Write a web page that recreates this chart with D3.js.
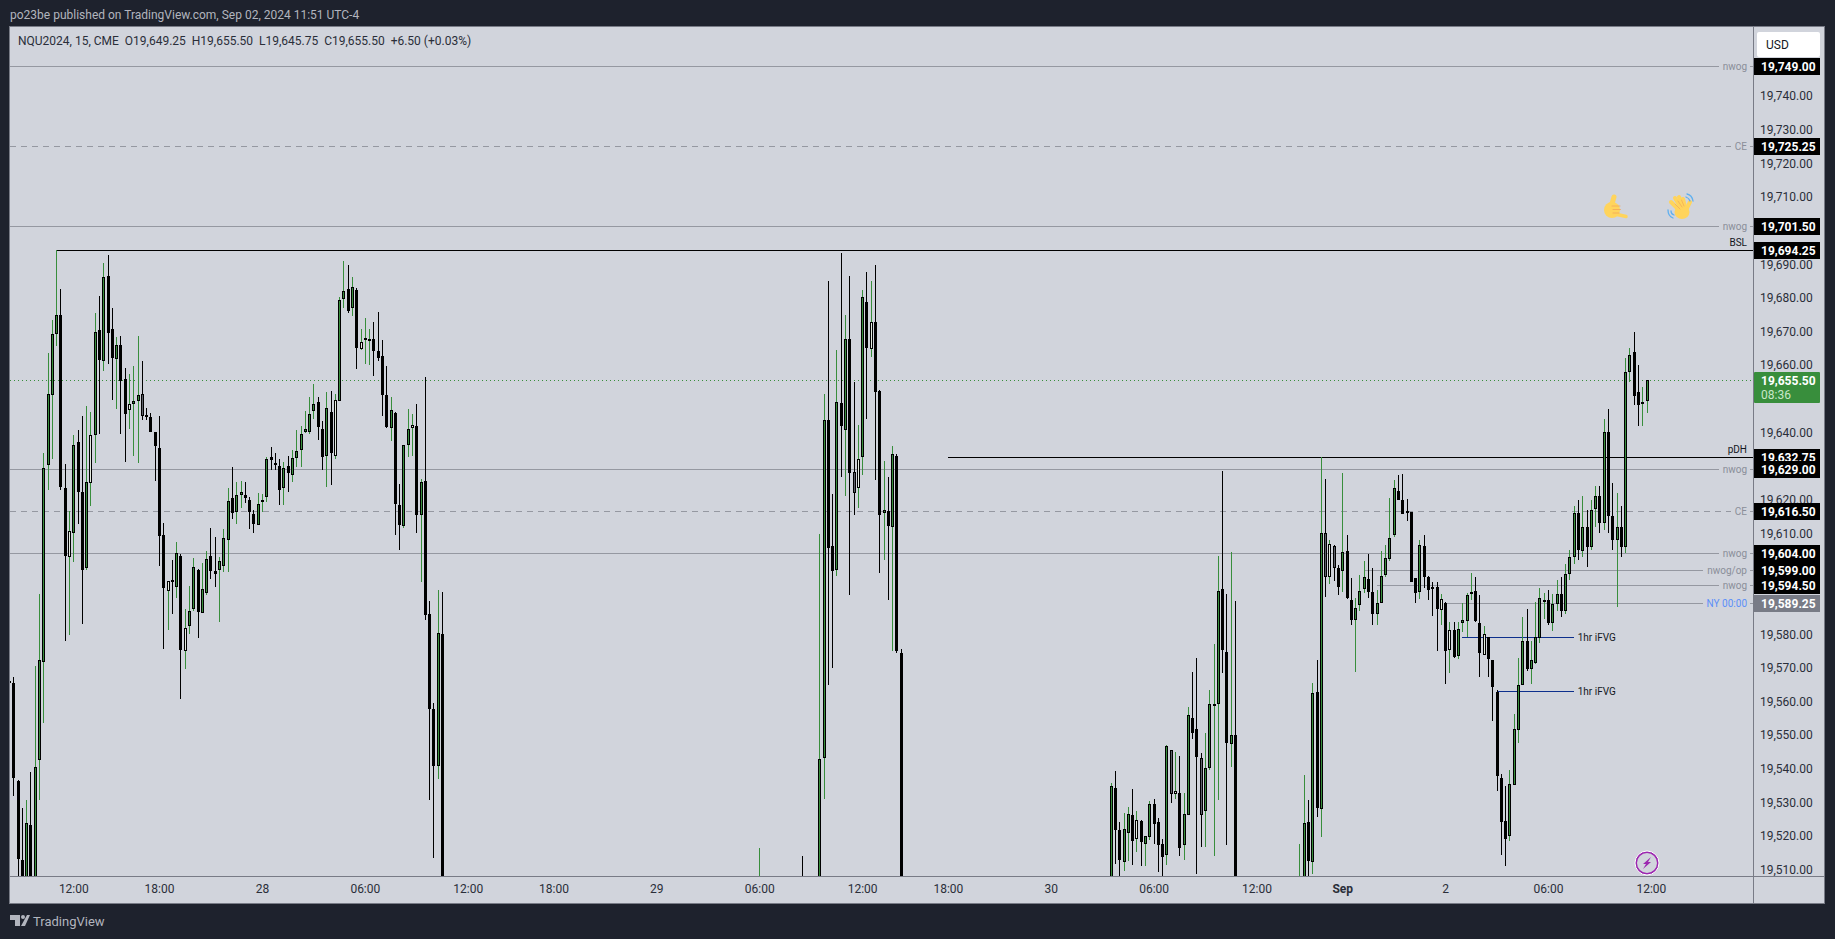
<!DOCTYPE html>
<html>
<head>
<meta charset="utf-8">
<script src="https://cdn.jsdelivr.net/npm/d3@7"></script>
<style>
  html, body { margin: 0; padding: 0; background: #1e222d; overflow: hidden; }
  svg { display: block; }
  text { font-family: Roboto, "Noto Sans", sans-serif; }
</style>
</head>
<body>
<div id="chart"></div>
<script>
//each bar: [bar number, kind, open, high, low, close]
//kind: u = green, d = black, h = hollow, g = grey
const barsAug27 = [
  [-1,"d",19566,19566.5,19565.5,19565.8],
  [0,"d",19565.5,19567.3,19532,19537.3],[1,"d",19536.4,19536.6,19505,19513.1],[2,"d",19512.9,19528.4,19500,19505],
  [3,"u",19505,19530.8,19500,19523.9],[4,"d",19523.4,19539.1,19500,19505],[5,"u",19505,19570.6,19500,19540.5],
  [6,"u",19542.5,19592,19530.6,19572.3],[7,"u",19571.6,19633.8,19553.5,19629.4],[8,"u",19630.2,19663.5,19622.9,19651.4],
  [9,"u",19651,19673.4,19632.2,19669.2],[10,"u",19669.1,19694.25,19665.7,19674.8],[11,"d",19674.8,19682.5,19623,19623.6],
  [12,"d",19623.4,19630.7,19577.9,19603.1],[13,"h",19602.9,19616.7,19579.8,19610.6],[14,"u",19610,19639.2,19601.6,19636.2],
  [15,"d",19637.1,19640.7,19612.8,19622.2],[16,"d",19622.2,19644.8,19583.1,19599],[17,"u",19599.5,19647.8,19599,19625.2],
  [18,"h",19624.8,19646.1,19618,19639.2],[19,"u",19639.1,19675.4,19631,19669.8],[20,"d",19670.4,19680.6,19639.6,19661.4],
  [21,"u",19661.1,19690.4,19658.3,19686.1],[22,"d",19686.4,19692.7,19660.4,19669.4],[23,"d",19670.7,19676.9,19649.7,19662],
  [24,"u",19661.8,19668.3,19647,19665.9],[25,"d",19665.9,19668.6,19639.6,19655.2],[26,"d",19655.8,19659.1,19631.3,19645.3],
  [27,"h",19646.5,19657.4,19641.1,19648.4],[28,"u",19648.3,19659.8,19633,19649.3],[29,"u",19649.2,19668.6,19631,19651.1],
  [30,"g",19651.4,19661.2,19643.7,19645],[31,"d",19645.2,19647.3,19643.7,19645],[32,"d",19644.6,19645.8,19640,19640],
  [33,"d",19640.1,19640.1,19625.6,19635.8],[34,"d",19635.3,19644.8,19600.4,19609],[35,"d",19609.5,19613,19575.5,19593.6],
  [36,"h",19592.7,19595.8,19581.3,19595.8],[37,"d",19596.2,19602.1,19586.1,19596],[38,"u",19593.9,19607.4,19590.8,19604.1],
  [39,"d",19603.3,19603.9,19560.8,19575.5],[40,"h",19574.9,19587.6,19569.7,19581.8],[41,"u",19582.3,19594.4,19580.1,19586.9],
  [42,"u",19587.4,19602.7,19586.8,19599.9],[43,"d",19599,19599.3,19579,19586.5],[44,"u",19586.2,19601.2,19586.2,19593.4],
  [45,"u",19592.1,19604.7,19591.7,19602.3],[46,"d",19603.2,19611.5,19596.5,19598.7],[47,"d",19598.9,19608.9,19593.9,19598.1],
  [48,"u",19599,19603.1,19583.5,19601.7],[49,"u",19600.4,19611.3,19598.4,19608.6],[50,"u",19608.2,19623.5,19598.4,19619.7],
  [51,"d",19620.5,19629.7,19614.3,19615.9],[52,"u",19616.2,19625.2,19612.8,19621.3],[53,"u",19621.3,19625.5,19617.6,19622.2],
  [54,"d",19621.3,19625.2,19619.1,19620.4],[55,"d",19619.9,19620.8,19611.4,19616.2],[56,"d",19615.7,19616.9,19610.2,19612.6],
  [57,"u",19612.6,19622,19612.6,19618.7],[58,"h",19619.2,19621.7,19616.2,19619.9],[59,"u",19620.7,19632.6,19619.2,19632.1],
  [60,"d",19632.6,19635.6,19628.7,19631.7],[61,"d",19631,19633.8,19628.9,19630.8],[62,"d",19630,19632.1,19618.5,19623],
  [63,"u",19623.6,19631.2,19618.3,19629.4],[64,"d",19630,19632.9,19622.2,19627.8],[65,"u",19627.2,19634.7,19625.4,19632.3],
  [66,"u",19632.2,19640.7,19629.8,19634.4],[67,"u",19634.6,19641.9,19629.6,19639.5],[68,"u",19640,19646.3,19639.7,19641],
  [69,"u",19640,19650.5,19639.4,19645.4],[70,"u",19646.2,19654.3,19644.1,19648.4],[71,"d",19649,19650.5,19637.8,19641.5],
  [72,"d",19641,19643.3,19628.9,19632.8],[73,"u",19632.8,19652,19623.9,19647.2],[74,"d",19646,19652.2,19624.4,19633.7],
  [75,"h",19633.1,19651.5,19632.2,19649.6],[76,"u",19649.2,19680.3,19649.2,19679.3],[77,"u",19679.5,19690.9,19676.9,19682],
  [78,"d",19682.5,19689.8,19675.5,19675.9],[79,"u",19676.8,19686.1,19674.6,19683.1],[80,"d",19682.2,19682.8,19658.9,19664.9],
  [81,"h",19664.6,19670.7,19664.6,19666.8],[82,"u",19667.8,19673.9,19660.4,19668],[83,"u",19667.2,19670.7,19660.1,19667.8],
  [84,"d",19667.7,19672.7,19656.8,19664],[85,"d",19664.1,19675.7,19661.3,19661.9],[86,"d",19662.6,19667.4,19644.9,19651],
  [87,"d",19651.1,19659.7,19641.2,19641.7],[88,"u",19641.2,19650.5,19637.3,19646.6],[89,"d",19645.7,19646,19609.6,19618.5],
  [90,"d",19618.4,19624.6,19605.1,19612.5],[91,"u",19612.2,19636.3,19611.5,19636.2],[92,"u",19636.1,19646.9,19632.7,19641],
  [93,"h",19641.2,19645.4,19633,19642.2],[94,"d",19641.9,19648.4,19610.2,19615.5],[95,"u",19615.5,19626.1,19595.6,19625.2],
  [96,"d",19625.5,19656.4,19584.2,19585.7],[97,"d",19586,19590,19530.7,19557.7],[98,"d",19557.8,19559.5,19513.5,19540.8],
  [99,"u",19540.8,19593.1,19536.9,19580.3],[100,"d",19580.1,19592.5,19500,19505]
];

const barsAug29 = [
  [174,"u",19505,19516.4,19500,19507],[184,"d",19508,19514,19500,19505],
  [188,"u",19505,19609.9,19500,19543],[189,"u",19543,19651.5,19531,19643.6],[190,"d",19643.6,19685,19565,19605.5],
  [191,"d",19606.2,19621.7,19570,19598.7],[192,"u",19599,19664.4,19597.2,19649],[193,"d",19648.7,19693.2,19626.8,19641.8],
  [194,"u",19640.6,19674.9,19621,19667.7],[195,"d",19667.7,19686.4,19591.6,19627.8],[196,"g",19628.1,19654.9,19615.5,19621.9],
  [197,"h",19623.6,19642.2,19617.6,19632.1],[198,"u",19632.5,19682.2,19627.4,19680.2],[199,"d",19678.7,19687.6,19644,19664.9],
  [200,"h",19664.6,19684.9,19662.4,19672.7],[201,"d",19672.7,19689.7,19625.9,19651.9],[202,"d",19652.2,19652.5,19598.1,19615.3],
  [203,"u",19615.9,19631.6,19602.2,19616.9],[204,"d",19616.6,19626.7,19590.3,19612.1],[205,"u",19611.8,19635.9,19575,19633.5],
  [206,"d",19632.9,19633.5,19574.5,19575],[207,"d",19574.5,19575.5,19500,19505]
];

const barsAug30 = [
  [256,"u",19505,19535.9,19500,19534.9],[257,"d",19534.3,19539.4,19511.8,19521.7],[258,"d",19521.8,19524.2,19506,19512.8],
  [259,"u",19512.2,19526.9,19509.5,19522.1],[260,"u",19521.1,19528.7,19512.5,19526.6],[261,"d",19526.3,19534,19511.3,19518.5],
  [262,"h",19519.1,19527.5,19515.2,19524.8],[263,"d",19524.5,19524.9,19511,19518.2],[264,"u",19517.6,19519.9,19511,19519.9],
  [265,"u",19519.9,19530.4,19518.8,19529.6],[266,"d",19529.6,19531,19517.6,19523.8],[267,"d",19524.1,19525.4,19509.3,19517.3],
  [268,"d",19517.7,19519.2,19506,19513.7],[269,"u",19514.3,19547.2,19511.3,19546.8],[270,"g",19545.6,19545.6,19529.8,19532.4],
  [271,"h",19532.5,19545,19530.9,19533.4],[272,"d",19532.8,19543.8,19514,19516.4],[273,"u",19517.3,19532.8,19512.8,19526.6],
  [274,"u",19526.2,19558.4,19526.2,19556],[275,"d",19555.1,19568.8,19548.8,19550.5],[276,"d",19551.8,19572.9,19508.7,19543.4],
  [277,"g",19543.2,19544.7,19516.7,19526.3],[278,"u",19527.4,19550.6,19516.7,19540.2],[279,"u",19540.4,19563.4,19539.6,19559.3],
  [280,"u",19559,19577.1,19514,19559.4],[281,"u",19559.2,19603.2,19530.8,19592.8],[282,"d",19593.4,19628.6,19568.4,19575.2],
  [283,"d",19574.7,19591.9,19517.3,19547.6],[284,"u",19547.3,19604.4,19540.4,19550],[285,"d",19550.1,19589.8,19500,19505]
];

const barsSep = [
  [300,"u",19505,19517.7,19500,19507],[301,"u",19505,19538.2,19500,19523.9],[302,"d",19524.2,19530.7,19506,19512.5],
  [303,"u",19512.2,19565.5,19508.7,19562.5],[304,"d",19562.8,19572.3,19525.6,19528.3],[305,"u",19528,19632.75,19519.7,19610],
  [306,"g",19610,19626.2,19591.2,19597],[307,"h",19596.9,19608.1,19595,19606.8],[308,"g",19606.2,19606.5,19595.9,19599.6],
  [309,"d",19599.7,19600.5,19591.7,19594.2],[310,"u",19598.7,19627.9,19592.6,19604.4],[311,"d",19604.7,19609.5,19590.6,19590.6],
  [312,"d",19590.1,19596.7,19582.6,19584.1],[313,"u",19584.1,19590.7,19568.9,19587.8],[314,"u",19588.6,19597.6,19587,19592.8],
  [315,"u",19593.3,19601.7,19592.3,19597],[316,"d",19596.4,19603.8,19590.8,19592.4],[317,"d",19592.5,19599.7,19582.8,19585.9],
  [318,"u",19585.9,19593.2,19582.8,19589.3],[319,"u",19589.3,19604.7,19589.3,19597.3],[320,"u",19597.5,19606.5,19597.1,19602.6],
  [321,"u",19602.3,19620.4,19601.9,19608.6],[322,"u",19609.4,19625.8,19609,19623.4],[323,"d",19622.5,19627.3,19619.8,19619.8],
  [324,"d",19619.8,19627.6,19615.6,19615.6],[325,"d",19616.5,19620.1,19613.8,19616.1],[326,"d",19616.3,19616.3,19595.4,19595.4],
  [327,"d",19596.7,19596.7,19589.4,19592.1],[328,"u",19592.4,19608,19590.5,19606.5],[329,"d",19606.2,19609.5,19593.8,19596.9],
  [330,"d",19597,19597.3,19590.2,19593],[331,"d",19593.9,19595.5,19585.5,19593.5],[332,"d",19594,19595.5,19575.1,19587.4],
  [333,"h",19587.1,19592,19582.8,19590.4],[334,"d",19589.3,19589.6,19565.3,19574.9],[335,"h",19575.3,19583.6,19568.6,19581.2],
  [336,"d",19581.2,19583.6,19573,19573.2],[337,"u",19573.4,19583.6,19572.6,19581.5],[338,"u",19583.2,19589.3,19580.7,19584.2],
  [339,"u",19583.8,19592.2,19579.2,19591.6],[340,"u",19591.8,19598.2,19590.2,19592.5],[341,"d",19592.8,19597,19583.5,19583.9],
  [342,"d",19583.3,19591.6,19567.4,19574.3],[343,"h",19573.8,19582.4,19573.8,19580],[344,"d",19579.2,19579.2,19567.4,19572.6],
  [345,"d",19572.3,19572.3,19554.3,19564.2],[346,"d",19562.9,19563.5,19533.5,19537.8],[347,"d",19537.3,19538.5,19514.5,19524.1],
  [348,"d",19524.5,19535,19511,19519.1],[349,"u",19519.9,19539.7,19518.5,19535.5],[350,"u",19535.2,19556.3,19535.2,19551.8],
  [351,"u",19551.4,19572.9,19547.8,19564.9],[352,"u",19564.8,19585.1,19564.8,19578],[353,"d",19578,19587.5,19569.2,19569.6],
  [354,"u",19569.6,19578.1,19565.3,19572.3],[355,"u",19571.6,19589.6,19571.2,19579.2],[356,"u",19578.9,19593.7,19577.5,19590.7],
  [357,"u",19590,19592.2,19584.6,19590.2],[358,"d",19590.1,19593.1,19582.8,19583.2],
  [359,"u",19583.5,19592,19581,19589],[360,"u",19589,19596,19587,19592],[361,"d",19592,19597,19585,19587],
  [362,"u",19587,19601,19586,19598],[363,"u",19598,19605,19596,19603],[364,"u",19603,19618,19601,19616],
  [365,"d",19616,19620,19602,19605],[366,"u",19605,19621,19603,19612],[367,"d",19612,19617,19600,19606],
  [368,"u",19606,19620,19605,19617],[369,"u",19617,19624,19612,19621],[370,"d",19621,19624,19610,19613],
  [371,"u",19613,19644,19611,19640],[372,"d",19640,19647,19610,19615],[373,"d",19615,19625,19605,19608],
  [374,"u",19608,19622,19588,19612],[375,"d",19612,19618,19603,19606],[376,"u",19606,19662,19604,19658],
  [377,"u",19658,19665,19655,19663],[378,"d",19664,19669.7,19648,19651],[379,"d",19652,19660,19642,19648],
  [380,"u",19648.5,19653.5,19642,19649],[381,"u",19649.25,19655.5,19645.75,19655.5]
];

const bars = [...barsAug27, ...barsAug29, ...barsAug30, ...barsSep];

//price axis, round prices hidden behind a price tag are left out
const priceTicks = [19740,19730,19720,19710,19690,19680,19670,19660,19640,19620,19610,19580,19570,19560,19550,19540,19530,19520,19510];

//time axis
const timeTickBars = [14,34,58,82,106,126,150,174,198,218,242,266,290,310,334,358,382];
const timeTickLabels = ["12:00","18:00","28","06:00","12:00","18:00","29","06:00","12:00","18:00","30","06:00","12:00","Sep","2","06:00","12:00"];

//horizontal drawings, first bar of -10 means from the left edge
const lineLabels = ["nwog","CE","nwog","BSL","pDH","nwog","CE","nwog","nwog/op","nwog","NY 00:00"];
const linePrices = [19749,19725.25,19701.5,19694.25,19632.75,19629,19616.5,19604,19599,19594.5,19589.25];
const lineFirstBars = [-10,-10,-10,10,218,-10,-10,-10,315,318,334];

const fvgLabels = ["1hr iFVG","1hr iFVG"];
const fvgPrices = [19579.25,19563.25];
const fvgFirstBars = [338,346];
const fvgLastBar = 364;

const lastPrice = 19655.5;
const lastCountdown = "08:36";
const nyOpenPrice = 19589.25;

const headerText = "po23be published on TradingView.com, Sep 02, 2024 11:51 UTC-4";
const legendText = "NQU2024, 15, CME  O19,649.25  H19,655.50  L19,645.75  C19,655.50  +6.50 (+0.03%)";

//svg size
const width = 1835;
const height = 939;
const pane = { left: 10, right: 1753, top: 27, bottom: 876, axisBottom: 903, axisRight: 1824 };

const bg = "#1e222d";
const paneColor = "#d1d4dc";
const frameColor = "#787b86";
const lineColor = "#9598a1";
const green = "#388e3c";
const black = "#000000";

const x = d3.scaleLinear().domain([0, 381]).range([13.3, 1646.6]);
const y = d3.scaleLinear().domain([19740, 19510]).range([96, 869.7]);
const formatPrice = d3.format(",.2f");

const svg = d3
    .select("#chart")
    .append("svg")
    .attr("width", width)
    .attr("height", height);

svg.append("rect").attr("width", width).attr("height", height).attr("fill", bg);

svg.append("text")
    .attr("x", 10)
    .attr("y", 19)
    .attr("fill", "#b2b5be")
    .attr("font-size", 12)
    .text(headerText);

svg.append("rect")
    .attr("x", pane.left)
    .attr("y", pane.top)
    .attr("width", pane.axisRight - pane.left)
    .attr("height", pane.axisBottom - pane.top)
    .attr("fill", paneColor);

svg.append("clipPath")
    .attr("id", "plot")
    .append("rect")
    .attr("x", pane.left)
    .attr("y", pane.top)
    .attr("width", pane.right - pane.left)
    .attr("height", pane.bottom - pane.top);

//drawings sit under the candles
const gLines = svg.append("g").attr("clip-path", "url(#plot)").attr("shape-rendering", "crispEdges");
const gBars = svg.append("g").attr("clip-path", "url(#plot)").attr("shape-rendering", "crispEdges");
const gLabels = svg.append("g").attr("font-size", 10);

const snap = (v) => Math.round(v) + 0.5;

//last price
gLines.append("line")
    .attr("x1", pane.left)
    .attr("x2", pane.right)
    .attr("y1", snap(y(lastPrice)))
    .attr("y2", snap(y(lastPrice)))
    .attr("stroke", green)
    .attr("stroke-dasharray", "1 3");

lineLabels.forEach((label, i) => {
  const yPos = snap(y(linePrices[i]));
  const isLevel = label === "BSL" || label === "pDH";
  const x1 = lineFirstBars[i] < 0 ? pane.left : x(lineFirstBars[i]);

  const text = gLabels.append("text")
      .attr("x", pane.right - 6)
      .attr("y", isLevel ? yPos - 5 : yPos + 3.5)
      .attr("text-anchor", "end")
      .attr("fill", isLevel ? "#131722" : label === "NY 00:00" ? "#5b8ff9" : "#8a8e99")
      .text(label);

  const line = {
    stroke: isLevel ? black : lineColor,
    width: isLevel ? 1.5 : 1,
    dash: label === "CE" ? "6 5" : null,
  };
  const textLeft = text.node().getComputedTextLength();

  if (isLevel) {
    gLines.append("line")
        .attr("x1", x1).attr("x2", pane.right)
        .attr("y1", yPos).attr("y2", yPos)
        .attr("stroke", line.stroke).attr("stroke-width", line.width);
  } else {
    [[x1, pane.right - 6 - textLeft - 4], [pane.right - 3, pane.right]].forEach(([a, b]) => {
      gLines.append("line")
          .attr("x1", a).attr("x2", b)
          .attr("y1", yPos).attr("y2", yPos)
          .attr("stroke", line.stroke)
          .attr("stroke-dasharray", line.dash);
    });
  }
});

//1hr iFVG
fvgLabels.forEach((label, i) => {
  const yPos = snap(y(fvgPrices[i]));
  gLines.append("line")
      .attr("x1", x(fvgFirstBars[i])).attr("x2", x(fvgLastBar))
      .attr("y1", yPos).attr("y2", yPos)
      .attr("stroke", "#0d2f8c");
  gLabels.append("text")
      .attr("x", x(fvgLastBar) + 4)
      .attr("y", yPos + 3)
      .attr("fill", "#131722")
      .text(label);
});

//candles
const bar = gBars
    .selectAll("g.bar")
    .data(bars)
    .join("g")
    .attr("class", "bar")
    .attr("transform", (d) => `translate(${Math.round(x(d[0]))},0)`);

bar.append("rect")
    .attr("x", 0)
    .attr("width", 1)
    .attr("y", (d) => y(d[3]))
    .attr("height", (d) => Math.max(1, y(d[4]) - y(d[3])))
    .attr("fill", (d) => (d[1] === "u" || d[1] === "h" ? green : black));

bar.append("rect")
    .attr("x", -1)
    .attr("width", 3)
    .attr("y", (d) => Math.round(y(Math.max(d[2], d[5]))))
    .attr("height", (d) => Math.max(2, Math.round(y(Math.min(d[2], d[5])) - y(Math.max(d[2], d[5])))))
    .attr("fill", black);

bar.filter((d) => d[1] !== "d")
    .append("rect")
    .attr("x", 0)
    .attr("width", 1)
    .attr("y", (d) => Math.round(y(Math.max(d[2], d[5]))) + 1)
    .attr("height", (d) => Math.max(0, Math.round(y(Math.min(d[2], d[5])) - y(Math.max(d[2], d[5]))) - 2))
    .attr("fill", (d) => (d[1] === "u" ? green : d[1] === "h" ? "#e4ebe0" : "#5d606b"));

//axes
const gTime = svg.append("g")
    .attr("transform", `translate(0,${pane.bottom})`)
    .call(d3.axisBottom(x)
        .tickValues(timeTickBars)
        .tickFormat((d, i) => timeTickLabels[i])
        .tickSize(0)
        .tickPadding(8));
gTime.select(".domain").remove();
gTime.selectAll("text")
    .attr("font-size", 12)
    .attr("font-family", "Roboto")
    .attr("fill", "#2a2e39")
    .attr("font-weight", (d, i) => (timeTickLabels[i] === "Sep" ? 700 : 400));

const gPrice = svg.append("g")
    .attr("transform", `translate(${pane.right},0)`)
    .call(d3.axisRight(y)
        .tickValues(priceTicks)
        .tickFormat(formatPrice)
        .tickSize(0)
        .tickPadding(7));
gPrice.select(".domain").remove();
gPrice.selectAll("text")
    .attr("font-size", 12)
    .attr("font-family", "Roboto")
    .attr("fill", "#2a2e39");

//frame
const frame = svg.append("g").attr("stroke", frameColor).attr("fill", "none").attr("shape-rendering", "crispEdges");
frame.append("rect")
    .attr("x", pane.left - 0.5)
    .attr("y", pane.top - 0.5)
    .attr("width", pane.axisRight - pane.left + 1)
    .attr("height", pane.axisBottom - pane.top + 1);
frame.append("line").attr("x1", pane.left).attr("x2", pane.axisRight).attr("y1", pane.bottom + 0.5).attr("y2", pane.bottom + 0.5);
frame.append("line").attr("x1", pane.right + 0.5).attr("x2", pane.right + 0.5).attr("y1", pane.top).attr("y2", pane.axisBottom);

//price tags
const gTags = svg.append("g");
linePrices.forEach((p) => {
  const isNy = p === nyOpenPrice;
  const g = gTags.append("g").attr("transform", `translate(${pane.right + 1},${Math.round(y(p))})`);
  g.append("rect")
      .attr("y", -8)
      .attr("width", 66)
      .attr("height", 17)
      .attr("fill", isNy ? "#787b86" : black);
  g.append("text")
      .attr("x", 7)
      .attr("y", 4.5)
      .attr("font-size", 12)
      .attr("font-weight", 700)
      .attr("fill", "#ffffff")
      .text(formatPrice(p));
});

const lastTag = svg.append("g").attr("transform", `translate(${pane.right + 1},${Math.round(y(lastPrice))})`);
lastTag.append("rect").attr("y", -8).attr("width", 66).attr("height", 31).attr("rx", 1).attr("fill", green);
lastTag.append("text").attr("x", 7).attr("y", 4.5).attr("font-size", 12).attr("font-weight", 700).attr("fill", "#ffffff").text(formatPrice(lastPrice));
lastTag.append("text").attr("x", 7).attr("y", 18.5).attr("font-size", 12).attr("fill", "#c8e6c9").text(lastCountdown);

//currency button
svg.append("rect").attr("x", pane.right + 1).attr("y", pane.top).attr("width", 70).attr("height", 31).attr("fill", paneColor);
svg.append("rect")
    .attr("x", 1757).attr("y", 32).attr("width", 63).attr("height", 25).attr("rx", 2)
    .attr("fill", "#ffffff");
svg.append("text").attr("x", 1766).attr("y", 49).attr("font-size", 12).attr("fill", "#131722").text("USD");

//legend
svg.append("text")
    .attr("x", 18)
    .attr("y", 45)
    .attr("font-size", 12)
    .attr("fill", "#2a2e39")
    .attr("xml:space", "preserve")
    .text(legendText);

//emoji stickers
const skin = "#ffd45c";
const crease = "#f2a65a";
const shaka = svg.append("g").attr("transform", "translate(1603,194)").attr("stroke-linecap", "round").attr("fill", "none");
shaka.append("line").attr("x1", 8).attr("y1", 13).attr("x2", 11).attr("y2", 3).attr("stroke", skin).attr("stroke-width", 5);
shaka.append("circle").attr("cx", 9).attr("cy", 16).attr("r", 8).attr("fill", skin);
shaka.append("line").attr("x1", 12).attr("y1", 20).attr("x2", 23).attr("y2", 22.5).attr("stroke", skin).attr("stroke-width", 3.5);
shaka.append("path").attr("stroke", crease).attr("stroke-width", 0.8).attr("d", "M9 12 H17 M10 15.5 H17.5 M10 19 H16");
const wave = svg.append("g").attr("transform", "translate(1667,193)").attr("stroke-linecap", "round").attr("fill", "none");
wave.append("g").attr("stroke", skin).attr("stroke-width", 4)
    .selectAll("line")
    .data([[12, 17, 4, 9], [14, 15, 8, 5], [16, 14, 12, 4], [18, 14, 16, 6], [19, 17, 23, 9]])
    .join("line")
    .attr("x1", (d) => d[0]).attr("y1", (d) => d[1]).attr("x2", (d) => d[2]).attr("y2", (d) => d[3]);
wave.append("ellipse").attr("cx", 15).attr("cy", 19).attr("rx", 7.5).attr("ry", 7).attr("fill", skin);
wave.append("path").attr("stroke", crease).attr("stroke-width", 0.7).attr("d", "M8 11 L13 16 M11 8 L15 14 M14.5 7 L17 13");
wave.append("path").attr("stroke", "#5fb0ef").attr("stroke-width", 1.3).attr("d", "M20 1 Q25 2 26 8 M19 4 Q22 5 23 8 M1 17 Q1 23 6 25 M4 18 Q4 21 7 22");

//lightning badge
svg.append("circle").attr("cx", 1647).attr("cy", 863).attr("r", 11).attr("fill", paneColor).attr("stroke", "#9c27b0").attr("stroke-width", 2);
svg.append("circle").attr("cx", 1647).attr("cy", 863).attr("r", 12).attr("fill", "none").attr("stroke", "#ffffff");
svg.append("path").attr("fill", "#9c27b0").attr("d", "M1651 857 L1643 864 L1646 864 L1643 869 L1651 862 L1648 862 Z");

//footer logo
svg.append("path").attr("fill", "#b2b5be").attr("d", "M10 915 H20 V926 H15 V920 H10 Z M27 915 H30 L25 926 H21 Z");
svg.append("circle").attr("cx", 23).attr("cy", 917).attr("r", 2).attr("fill", "#b2b5be");
svg.append("text").attr("x", 33).attr("y", 926).attr("font-size", 13).attr("fill", "#b2b5be").text("TradingView");
</script>
</body>
</html>
